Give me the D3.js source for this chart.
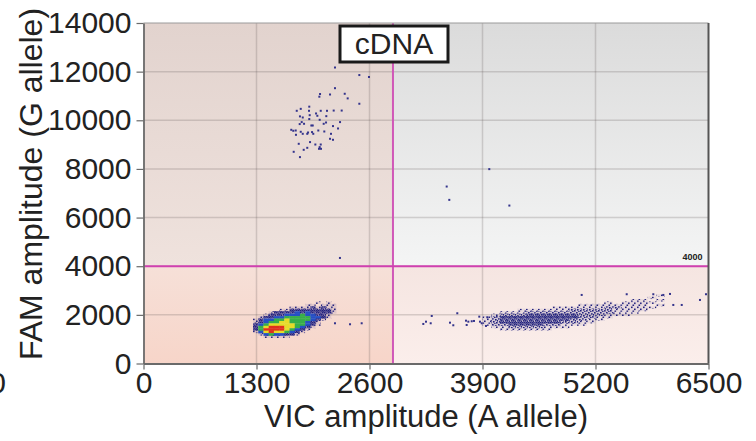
<!DOCTYPE html>
<html>
<head>
<meta charset="utf-8">
<script src="https://cdn.jsdelivr.net/npm/d3@7"></script>
<style>
  body { margin: 0; background: #fff; }
  svg { display: block; font-family: Arial, "Liberation Sans", sans-serif; }
</style>
</head>
<body>
<svg id="chart" width="756" height="441"></svg>
<script>
var xTicks = [0, 1300, 2600, 3900, 5200, 6500];
var yTicks = [0, 2000, 4000, 6000, 8000, 10000, 12000, 14000];
var vicThreshold = 2870;
var famThreshold = 4000;
var wellName = "cDNA";

// FAM+ droplets, read one by one [VIC, FAM]
var famPositive = [
  [2203, 12170], [2483, 11860], [2594, 11780], [2203, 11320], [2031, 11080],
  [2146, 11060], [2023, 10970], [2315, 11090], [2349, 10900], [2483, 10680],
  [1907, 10560], [1763, 10390], [1809, 10470], [1904, 10390], [2039, 10390],
  [2111, 10390], [2188, 10400], [2280, 10400], [1800, 10160], [1832, 10115],
  [1912, 10210], [1985, 10280], [2000, 10185], [2103, 10170], [1907, 10050],
  [2027, 10020], [2261, 9926], [1820, 9926], [1797, 9844], [1847, 9856],
  [1931, 9786], [1947, 9786], [2100, 9909], [2073, 9856], [2180, 9761],
  [2238, 9663], [1700, 9609], [1723, 9568], [1751, 9580], [1809, 9527],
  [1893, 9498], [1939, 9514], [2011, 9580], [2080, 9539], [1754, 9403],
  [1832, 9444], [1884, 9444], [1953, 9444], [2157, 9444], [2146, 9239],
  [2180, 9198], [1916, 9103], [1786, 9033], [1977, 9004], [2039, 9004],
  [2027, 8897], [2019, 8827], [2042, 8827], [1884, 8868], [1843, 8786],
  [1728, 8704], [1800, 8486]
];

// scattered single droplets [VIC, FAM]
var strayDroplets = [
  [3488, 7276], [3518, 6728], [3978, 7992], [4209, 6494], [2260, 4340],
  [2203, 1654], [2376, 1613], [2510, 1654],
  [3219, 1626], [3250, 1720], [3304, 1654], [3316, 1955], [3526, 1679],
  [3564, 1572], [3610, 2066], [3710, 1761], [3737, 1720], [3776, 1737],
  [3802, 1749], [3718, 1584], [3863, 1926], [3871, 1720], [3891, 1654],
  [3940, 1543], [3955, 1901],
  [5041, 2819], [5559, 2848], [5865, 2848], [5980, 2819], [6057, 2860],
  [6095, 2407], [6192, 2407], [6402, 2613], [6471, 2848]
];

// double negative cluster, binned density (0 none .. 6 densest)
var negFam = [2500, 2400, 2300, 2200, 2100, 2000, 1900, 1800, 1700, 1600, 1500, 1400, 1300, 1200, 1100];
var negVicStart = 1260, negVicStep = 60;
var negRows = [
  "00000000000010100",
  "00000000001101110",
  "00000001111212110",
  "00000112222222210",
  "00012222323222210",
  "00122233343322100",
  "01223344444332100",
  "12334454444321000",
  "12344554443210000",
  "23455555443210000",
  "24566655432100000",
  "24666654321000000",
  "13565543210000000",
  "01343322100000000",
  "00111110000000000"
];

// VIC+ cluster, binned density (0 none .. 3 dense)
var vicFam = [2800, 2700, 2600, 2500, 2400, 2300, 2200, 2100, 2000, 1900, 1800, 1700, 1600, 1500, 1400];
var vicVicStart = 3800, vicVicStep = 100;
var vicRows = [
  "0000000000000000000001",
  "0000000000000000000010",
  "0000000000000000001101",
  "0000000000000001011110",
  "0000000000001111111101",
  "0000000001111112211110",
  "0000011111122222111100",
  "0001112222222222111000",
  "0012223333332221110000",
  "0123333333332211000000",
  "0123333333322110000000",
  "0123333333221100000000",
  "0122333322111000000000",
  "0011222211100000000000",
  "0001111110000000000000"
];

var svg = d3.select("#chart");

var x = d3.scaleLinear().domain([0, 6500]).range([143.5, 708.5]);
var y = d3.scaleLinear().domain([0, 14000]).range([363.5, 23]);

var defs = svg.append("defs");

// stipple patterns so dense droplet areas look speckled
var dotColor = "#22227e";
var stipple = {
  s1: [[1, 0.5], [4, 2.5], [2.5, 4.5]],
  s2: [[0, 0], [3, 1], [1, 3], [4, 4], [5, 2], [2, 5]],
  s3: [[0, 0], [2, 0.5], [4, 0], [1, 2], [3, 2], [5, 2.5], [0, 4], [2, 3.8], [4, 4], [1, 5.5], [3, 5.2], [5, 5]]
};
Object.keys(stipple).forEach(function(k) {
  var p = defs.append("pattern").attr("id", k).attr("patternUnits", "userSpaceOnUse")
    .attr("width", 6).attr("height", 6);
  stipple[k].forEach(function(d) {
    p.append("rect").attr("x", d[0]).attr("y", d[1]).attr("width", 1.6).attr("height", 1.6)
      .attr("fill", dotColor);
  });
});
var wash = [0, 0.07, 0.18, 0.32];

// quadrant backgrounds
var quads = [
  {id: "qTL", x0: 0, x1: vicThreshold, y0: famThreshold, y1: 14000, c: ["#e2d3ce", "#efe2dd"]},
  {id: "qTR", x0: vicThreshold, x1: 6500, y0: famThreshold, y1: 14000, c: ["#dbdbdb", "#f4f5f5"]},
  {id: "qBL", x0: 0, x1: vicThreshold, y0: 0, y1: famThreshold, c: ["#f6e0d8", "#f7d5c9"]},
  {id: "qBR", x0: vicThreshold, x1: 6500, y0: 0, y1: famThreshold, c: ["#f5e5e1", "#fbeeeb"]}
];
quads.forEach(function(q) {
  var g = defs.append("linearGradient").attr("id", q.id)
    .attr("x1", 0).attr("y1", 0).attr("x2", 0).attr("y2", 1);
  g.append("stop").attr("offset", "0%").attr("stop-color", q.c[0]);
  g.append("stop").attr("offset", "100%").attr("stop-color", q.c[1]);
  svg.append("rect")
    .attr("x", x(q.x0)).attr("y", y(q.y1))
    .attr("width", x(q.x1) - x(q.x0)).attr("height", y(q.y0) - y(q.y1))
    .attr("fill", "url(#" + q.id + ")");
});

// grid
svg.append("g").selectAll("line").data(xTicks.slice(1, -1)).join("line")
  .attr("x1", function(d) { return x(d); }).attr("x2", function(d) { return x(d); })
  .attr("y1", y(0)).attr("y2", y(14000))
  .attr("stroke", "rgba(90,80,80,0.22)").attr("stroke-width", 1.5);
svg.append("g").selectAll("line").data(yTicks.slice(1, -1)).join("line")
  .attr("y1", function(d) { return y(d); }).attr("y2", function(d) { return y(d); })
  .attr("x1", x(0)).attr("x2", x(6500))
  .attr("stroke", "rgba(90,80,80,0.22)").attr("stroke-width", 1.5);

var cellH = y(0) - y(100);

// right cluster density
vicRows.forEach(function(row, i) {
  row.split("").forEach(function(ch, j) {
    var lv = +ch;
    if (!lv) return;
    var v = vicVicStart + j * vicVicStep;
    var cx = x(v), cy = y(vicFam[i] + 50), w = x(v + vicVicStep) - x(v);
    svg.append("rect").attr("x", cx).attr("y", cy).attr("width", w).attr("height", cellH)
      .attr("fill", dotColor).attr("fill-opacity", wash[lv]);
    svg.append("rect").attr("x", cx).attr("y", cy).attr("width", w).attr("height", cellH)
      .attr("fill", "url(#s" + lv + ")");
  });
});

// left cluster heat
var heat = ["none", "url(#s1)", "url(#s3)", "#2650c4", "#37ae4a", "#e6dc28", "#e0301e"];
negRows.forEach(function(row, i) {
  row.split("").forEach(function(ch, j) {
    var lv = +ch;
    if (!lv) return;
    var v = negVicStart + j * negVicStep;
    var cx = x(v), cy = y(negFam[i] + 50), w = x(v + negVicStep) - x(v);
    if (lv <= 2) {
      svg.append("rect").attr("x", cx).attr("y", cy).attr("width", w).attr("height", cellH)
        .attr("fill", "#1a1a8c").attr("fill-opacity", lv === 2 ? 0.45 : 0.1);
    }
    svg.append("rect")
      .attr("x", cx).attr("y", cy)
      .attr("width", w + (lv > 2 ? 0.3 : 0))
      .attr("height", cellH + (lv > 2 ? 0.3 : 0))
      .attr("fill", heat[lv]);
  });
});

// single droplets
svg.append("g").selectAll("rect").data(famPositive.concat(strayDroplets)).join("rect")
  .attr("x", function(d) { return x(d[0]) - 1; })
  .attr("y", function(d) { return y(d[1]) - 1; })
  .attr("width", 2).attr("height", 2)
  .attr("fill", "#34348c");

// thresholds
svg.append("line")
  .attr("x1", x(vicThreshold)).attr("x2", x(vicThreshold))
  .attr("y1", y(0)).attr("y2", y(14000))
  .attr("stroke", "#d058b8").attr("stroke-width", 2);
svg.append("line")
  .attr("x1", x(0)).attr("x2", x(6500))
  .attr("y1", y(famThreshold)).attr("y2", y(famThreshold))
  .attr("stroke", "#d040b0").attr("stroke-width", 2);
svg.append("text")
  .attr("x", x(6500) - 6).attr("y", y(famThreshold) - 6)
  .attr("text-anchor", "end").attr("font-size", 9).attr("font-weight", "bold")
  .attr("fill", "#222").text(famThreshold);

// frame
svg.append("line")
  .attr("x1", x(0)).attr("x2", x(6500)).attr("y1", y(14000)).attr("y2", y(14000))
  .attr("stroke", "#9a9a9a").attr("stroke-width", 1);
svg.append("line")
  .attr("x1", x(6500)).attr("x2", x(6500)).attr("y1", y(14000)).attr("y2", y(0))
  .attr("stroke", "#555").attr("stroke-width", 2);

// axes
var fmt = d3.format("d");
var yAxis = svg.append("g")
  .attr("transform", "translate(" + x(0) + ",0)")
  .call(d3.axisLeft(y).tickValues(yTicks).tickFormat(fmt).tickSize(7).tickSizeOuter(0).tickPadding(5));
var xAxis = svg.append("g")
  .attr("transform", "translate(0," + y(0) + ")")
  .call(d3.axisBottom(x).tickValues(xTicks).tickFormat(fmt).tickSize(6).tickSizeOuter(0).tickPadding(2));
[xAxis, yAxis].forEach(function(ax) {
  ax.select(".domain").attr("stroke", "#6a6a6a").attr("stroke-width", 1.8);
  ax.selectAll(".tick line").attr("stroke", "#6a6a6a").attr("stroke-width", 1.2);
  ax.selectAll(".tick text").attr("font-size", 30).attr("fill", "#222")
    .attr("font-family", "Arial, 'Liberation Sans', sans-serif");
});

// well label
svg.append("rect")
  .attr("x", 340).attr("y", 26).attr("width", 108).attr("height", 36)
  .attr("fill", "#fff").attr("stroke", "#1a1a1a").attr("stroke-width", 3);
svg.append("text")
  .attr("x", 394).attr("y", 54).attr("text-anchor", "middle")
  .attr("font-size", 30).attr("fill", "#222").text(wellName);

// titles
svg.append("text")
  .attr("x", 426).attr("y", 427).attr("text-anchor", "middle")
  .attr("font-size", 31).attr("fill", "#222")
  .text("VIC amplitude (A allele)");
svg.append("text")
  .attr("transform", "translate(42,184) rotate(-90)")
  .attr("text-anchor", "middle")
  .attr("font-size", 32).attr("fill", "#222")
  .text("FAM amplitude (G allele)");

// clipped label from neighbouring panel
svg.append("text")
  .attr("x", 6).attr("y", 393).attr("text-anchor", "end")
  .attr("font-size", 30).attr("fill", "#222").text("0");
</script>
</body>
</html>
